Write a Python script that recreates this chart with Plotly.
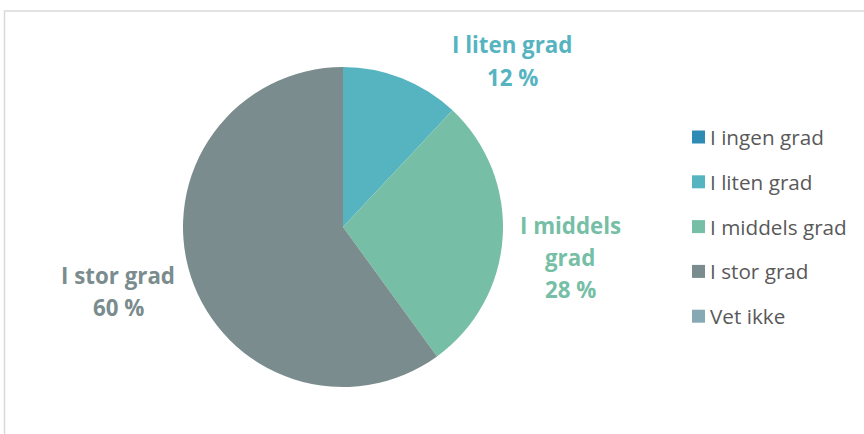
import plotly.graph_objects as go

categories = ["I ingen grad", "I liten grad", "I middels grad", "I stor grad", "Vet ikke"]
values = [0, 12, 28, 60, 0]
colors = ["#2E8CB4", "#56B4C0", "#76BFA6", "#7A8C8D", "#86A9B3"]

W, H = 864, 434
cx, cy, r = 343, 227, 160

fig = go.Figure(go.Pie(
    labels=categories,
    values=values,
    marker=dict(colors=colors, line=dict(width=0)),
    sort=False,
    direction="clockwise",
    rotation=0,
    textinfo="none",
    hoverinfo="label+percent",
    showlegend=False,
    domain=dict(x=[(cx - r) / W, (cx + r) / W],
                y=[(H - cy - r) / H, (H - cy + r) / H]),
))

# slice labels: category name + share, placed outside the pie (one annotation per line)
label_pos = {
    "I liten grad": (512, 45, ["I liten grad"]),
    "I middels grad": (570, 225, ["I middels", "grad"]),
    "I stor grad": (118, 275, ["I stor grad"]),
}
line_gap = 32
annotations = []
for name, val, col in zip(categories, values, colors):
    if name in label_pos and val > 0:
        x, y, lines = label_pos[name]
        for j, txt in enumerate(lines + [f"{val} %"]):
            annotations.append(dict(
                x=x / W, y=1 - (y + j * line_gap) / H, xref="paper", yref="paper",
                text=f"<b>{txt}</b>", showarrow=False,
                font=dict(family="Open Sans", size=22.3, color=col),
                xanchor="center", yanchor="middle",
            ))

# legend drawn as squares + text
shapes = []
leg_y0, leg_dy = 137, 44.8
for i, (name, col) in enumerate(zip(categories, colors)):
    y = leg_y0 + i * leg_dy
    shapes.append(dict(type="rect", xref="paper", yref="paper",
                       x0=692 / W, x1=705 / W, y0=1 - (y + 6.5) / H, y1=1 - (y - 6.5) / H,
                       fillcolor=col, line=dict(width=0)))
    annotations.append(dict(
        x=708 / W, y=1 - y / H, xref="paper", yref="paper", text=name,
        showarrow=False, xanchor="left", yanchor="middle",
        font=dict(family="Open Sans", size=20.7, color="#595959"),
    ))

# chart-area border
shapes.append(dict(type="rect", xref="paper", yref="paper",
                   x0=4.5 / W, x1=1.05, y0=-0.05, y1=1 - 11 / H,
                   line=dict(color="#D9D9D9", width=1.5), fillcolor="rgba(0,0,0,0)"))

fig.update_layout(
    width=W, height=H,
    margin=dict(l=0, r=0, t=0, b=0),
    paper_bgcolor="white", plot_bgcolor="white",
    annotations=annotations, shapes=shapes,
)

fig.write_html("out.html")
